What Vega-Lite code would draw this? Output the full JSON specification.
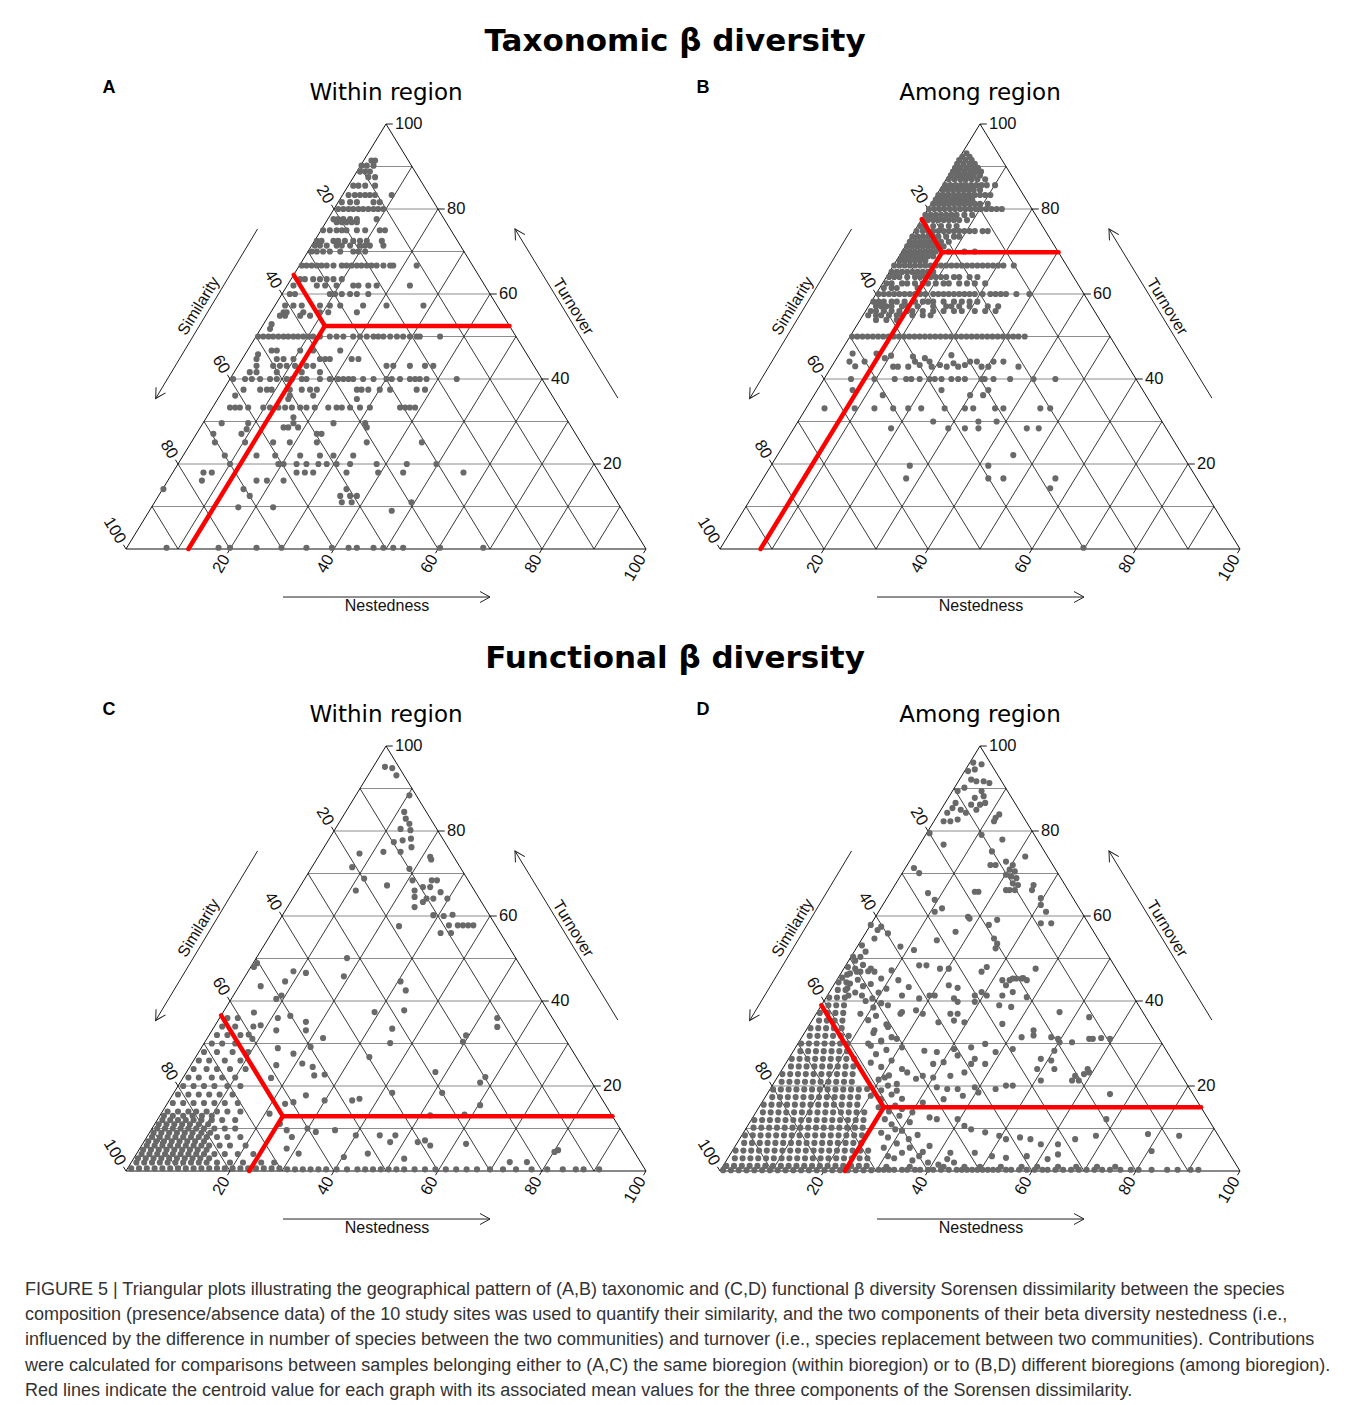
{
"$schema":"https://vega.github.io/schema/vega-lite/v6.json",
"background":"white",
"padding":{"left":25,"top":25,"right":10,"bottom":5},
"config":{"view":{"stroke":null},"font":"Liberation Sans"},
"datasets":{
"grid":[
{"k":"h","x":5,"y":10,"x2":95,"y2":10},{"k":"h","x":10,"y":20,"x2":90,"y2":20},{"k":"h","x":15,"y":30,"x2":85,"y2":30},{"k":"h","x":20,"y":40,"x2":80,"y2":40},{"k":"h","x":25,"y":50,"x2":75,"y2":50},{"k":"h","x":30,"y":60,"x2":70,"y2":60},{"k":"h","x":35,"y":70,"x2":65,"y2":70},{"k":"h","x":40,"y":80,"x2":60,"y2":80},{"k":"h","x":45,"y":90,"x2":55,"y2":90},
{"k":"d","x":10,"y":0,"x2":5,"y2":10},{"k":"d","x":20,"y":0,"x2":10,"y2":20},{"k":"d","x":30,"y":0,"x2":15,"y2":30},{"k":"d","x":40,"y":0,"x2":20,"y2":40},{"k":"d","x":50,"y":0,"x2":25,"y2":50},{"k":"d","x":60,"y":0,"x2":30,"y2":60},{"k":"d","x":70,"y":0,"x2":35,"y2":70},{"k":"d","x":80,"y":0,"x2":40,"y2":80},{"k":"d","x":90,"y":0,"x2":45,"y2":90},
{"k":"d","x":10,"y":0,"x2":55,"y2":90},{"k":"d","x":20,"y":0,"x2":60,"y2":80},{"k":"d","x":30,"y":0,"x2":65,"y2":70},{"k":"d","x":40,"y":0,"x2":70,"y2":60},{"k":"d","x":50,"y":0,"x2":75,"y2":50},{"k":"d","x":60,"y":0,"x2":80,"y2":40},{"k":"d","x":70,"y":0,"x2":85,"y2":30},{"k":"d","x":80,"y":0,"x2":90,"y2":20},{"k":"d","x":90,"y":0,"x2":95,"y2":10},
{"k":"e","x":0,"y":0,"x2":100,"y2":0},{"k":"e","x":0,"y":0,"x2":50,"y2":100},{"k":"e","x":100,"y":0,"x2":50,"y2":100},
{"k":"t","x":20,"y":0,"x2":19.5,"y2":-1},{"k":"t","x":40,"y":0,"x2":39.5,"y2":-1},{"k":"t","x":60,"y":0,"x2":59.5,"y2":-1},{"k":"t","x":80,"y":0,"x2":79.5,"y2":-1},{"k":"t","x":100,"y":0,"x2":99.5,"y2":-1},
{"k":"t","x":40,"y":80,"x2":39.5,"y2":81},{"k":"t","x":30,"y":60,"x2":29.5,"y2":61},{"k":"t","x":20,"y":40,"x2":19.5,"y2":41},{"k":"t","x":10,"y":20,"x2":9.5,"y2":21},{"k":"t","x":0,"y":0,"x2":-0.5,"y2":1},
{"k":"t","x":90,"y":20,"x2":91.3,"y2":20},{"k":"t","x":80,"y":40,"x2":81.3,"y2":40},{"k":"t","x":70,"y":60,"x2":71.3,"y2":60},{"k":"t","x":60,"y":80,"x2":61.3,"y2":80},{"k":"t","x":50,"y":100,"x2":51.3,"y2":100}
],
"labs":[
{"s":"b","v":"20","x":20,"y":0},{"s":"b","v":"40","x":40,"y":0},{"s":"b","v":"60","x":60,"y":0},{"s":"b","v":"80","x":80,"y":0},{"s":"b","v":"100","x":100,"y":0},
{"s":"l","v":"20","x":40,"y":80},{"s":"l","v":"40","x":30,"y":60},{"s":"l","v":"60","x":20,"y":40},{"s":"l","v":"80","x":10,"y":20},{"s":"l","v":"100","x":0,"y":0},
{"s":"r","v":"20","x":90,"y":20},{"s":"r","v":"40","x":80,"y":40},{"s":"r","v":"60","x":70,"y":60},{"s":"r","v":"80","x":60,"y":80},{"s":"r","v":"100","x":50,"y":100}
],
"arrows":[
{"n":"Similarity","x":25.3,"y":75.3,"x2":5.7,"y2":35.4},
{"n":"Turnover","x":94.6,"y":35.5,"x2":74.8,"y2":75.3},
{"n":"Nestedness","x":30.2,"y":-11.3,"x2":70.0,"y2":-11.3}
],
"names":[
{"n":"Similarity","x":14.0,"y":57.2},{"n":"Turnover","x":86.0,"y":57.0},{"n":"Nestedness","x":50.2,"y":-13.4}
],
"letters":[
{"p":"A","x":-4.5,"y":107.2},{"p":"B","x":-4.5,"y":107.2},{"p":"C","x":-4.5,"y":107.2},{"p":"D","x":-4.5,"y":107.2}
],
"red":[
{"p":"A","x":38.25,"y":52.5,"x2":12,"y2":0},{"p":"A","x":38.25,"y":52.5,"x2":73.75,"y2":52.5},{"p":"A","x":38.25,"y":52.5,"x2":32.25,"y2":64.5},
{"p":"B","x":42.7,"y":69.8,"x2":7.8,"y2":0},{"p":"B","x":42.7,"y":69.8,"x2":65.1,"y2":69.8},{"p":"B","x":42.7,"y":69.8,"x2":38.8,"y2":77.6},
{"p":"C","x":30.15,"y":12.9,"x2":23.7,"y2":0},{"p":"C","x":30.15,"y":12.9,"x2":93.55,"y2":12.9},{"p":"C","x":30.15,"y":12.9,"x2":18.3,"y2":36.6},
{"p":"D","x":31.5,"y":15,"x2":24,"y2":0},{"p":"D","x":31.5,"y":15,"x2":92.5,"y2":15},{"p":"D","x":31.5,"y":15,"x2":19.5,"y2":39}
],
"A":[
{"x":47.2,"y":91.4},{"x":47.9,"y":91.4},{"x":45.3,"y":90.2},{"x":46.3,"y":90.2},{"x":47.6,"y":90.2},{"x":45.0,"y":88.8},{"x":46.0,"y":88.8},{"x":46.9,"y":88.8},{"x":46.6,"y":87.5},{"x":47.9,"y":87.5},
{"x":43.7,"y":85.5},{"x":44.7,"y":85.5},{"x":46.0,"y":85.5},{"x":47.9,"y":85.5},
{"x":42.8,"y":83.3},{"x":44.0,"y":83.3},{"x":45.0,"y":83.3},{"x":46.0,"y":83.3},{"x":46.9,"y":83.3},{"x":47.9,"y":83.3},{"x":51.1,"y":83.3},
{"x":41.5,"y":81.6},{"x":43.1,"y":81.6},{"x":44.4,"y":81.6},{"x":47.6,"y":81.6},{"x":48.8,"y":81.6},
{"x":40.8,"y":80},{"x":41.8,"y":80},{"x":42.8,"y":80},{"x":43.7,"y":80},{"x":44.7,"y":80},{"x":45.6,"y":80},{"x":46.6,"y":80},{"x":47.6,"y":80},{"x":48.5,"y":80},{"x":49.5,"y":80},
{"x":39.9,"y":77.6},{"x":40.8,"y":77.6},{"x":41.8,"y":77.6},{"x":43.1,"y":77.6},{"x":44.4,"y":77.6},{"x":48.2,"y":77.6},
{"x":40.5,"y":76.9},{"x":41.5,"y":76.9},{"x":42.4,"y":76.9},{"x":43.4,"y":76.9},{"x":44.4,"y":76.9},
{"x":37.9,"y":75},{"x":39.2,"y":75},{"x":40.5,"y":75},{"x":41.5,"y":75},{"x":42.4,"y":75},{"x":44.4,"y":75},{"x":46.0,"y":75},{"x":48.8,"y":75},{"x":49.8,"y":75},
{"x":36.7,"y":72.5},{"x":37.6,"y":72.5},{"x":39.9,"y":72.5},{"x":40.8,"y":72.5},{"x":42.1,"y":72.5},{"x":43.7,"y":72.5},{"x":45.0,"y":72.5},{"x":46.3,"y":72.5},{"x":49.2,"y":72.5},
{"x":36.3,"y":71.4},{"x":37.3,"y":71.4},{"x":38.6,"y":71.4},{"x":40.5,"y":71.4},{"x":41.5,"y":71.4},{"x":43.1,"y":71.4},{"x":45.0,"y":71.4},{"x":46.0,"y":71.4},{"x":46.9,"y":71.4},{"x":49.5,"y":71.4},
{"x":35.7,"y":70},{"x":36.7,"y":70},{"x":37.9,"y":70},{"x":39.2,"y":70},{"x":41.2,"y":70},{"x":43.7,"y":70},{"x":44.7,"y":70},{"x":46.0,"y":70},
{"x":33.8,"y":66.7},{"x":34.7,"y":66.7},{"x":35.7,"y":66.7},{"x":36.7,"y":66.7},{"x":37.6,"y":66.7},{"x":38.6,"y":66.7},{"x":39.9,"y":66.7},{"x":41.5,"y":66.7},{"x":42.4,"y":66.7},{"x":43.4,"y":66.7},{"x":44.4,"y":66.7},{"x":45.3,"y":66.7},{"x":46.3,"y":66.7},{"x":47.2,"y":66.7},{"x":48.2,"y":66.7},{"x":49.5,"y":66.7},{"x":50.8,"y":66.7},{"x":51.4,"y":66.7},{"x":55.9,"y":66.7},
{"x":33.5,"y":63.5},{"x":34.4,"y":63.5},{"x":36.0,"y":63.5},{"x":37.3,"y":63.5},{"x":38.6,"y":63.5},{"x":39.9,"y":63.5},{"x":41.5,"y":63.5},
{"x":32.2,"y":62},{"x":36.7,"y":62},{"x":38.3,"y":62},{"x":40.5,"y":62},{"x":43.7,"y":62},{"x":44.7,"y":62},{"x":46.6,"y":62},{"x":48.2,"y":62},{"x":54.6,"y":62},
{"x":31.5,"y":60},{"x":32.5,"y":60},{"x":39.2,"y":60},{"x":40.2,"y":60},{"x":41.5,"y":60},{"x":43.1,"y":60},{"x":44.4,"y":60},{"x":46.6,"y":60},
{"x":30.6,"y":57.3},{"x":32.2,"y":57.3},{"x":33.8,"y":57.3},{"x":37.3,"y":57.3},{"x":39.2,"y":57.3},{"x":41.2,"y":57.3},{"x":45.6,"y":57.3},{"x":50.1,"y":57.3},{"x":57.2,"y":57.3},
{"x":30.3,"y":55.7},{"x":30.9,"y":55.7},{"x":34.1,"y":55.7},{"x":37.3,"y":55.7},{"x":38.9,"y":55.7},{"x":44.4,"y":55.7},
{"x":29.6,"y":54.9},{"x":30.6,"y":54.9},{"x":33.5,"y":54.9},{"x":35.4,"y":54.9},{"x":28.0,"y":52.9},{"x":27.7,"y":51.8},
{"x":25.4,"y":50},{"x":26.4,"y":50},{"x":27.4,"y":50},{"x":28.3,"y":50},{"x":29.3,"y":50},{"x":30.3,"y":50},{"x":31.2,"y":50},{"x":32.2,"y":50},{"x":33.1,"y":50},{"x":34.1,"y":50},{"x":35.1,"y":50},{"x":36.0,"y":50},{"x":37.3,"y":50},{"x":39.2,"y":50},{"x":40.5,"y":50},{"x":41.8,"y":50},{"x":43.7,"y":50},{"x":45.0,"y":50},{"x":46.3,"y":50},{"x":47.6,"y":50},{"x":48.5,"y":50},{"x":49.5,"y":50},{"x":50.8,"y":50},{"x":52.1,"y":50},{"x":53.3,"y":50},{"x":54.6,"y":50},{"x":55.9,"y":50},{"x":56.5,"y":50},{"x":60.4,"y":50},
{"x":28.0,"y":46.7},{"x":29.0,"y":46.7},{"x":33.5,"y":46.7},{"x":36.0,"y":46.7},{"x":41.2,"y":46.7},
{"x":25.1,"y":44.7},{"x":25.4,"y":45.8},{"x":29.0,"y":44.7},{"x":30.3,"y":44.7},{"x":32.2,"y":44.7},{"x":37.3,"y":44.7},{"x":38.3,"y":44.7},{"x":39.2,"y":44.7},{"x":43.4,"y":44.7},{"x":44.7,"y":44.7},
{"x":25.1,"y":43.1},{"x":28.3,"y":43.1},{"x":29.6,"y":43.1},{"x":30.9,"y":43.1},{"x":32.5,"y":43.1},{"x":34.7,"y":43.1},{"x":36.0,"y":43.1},{"x":50.1,"y":43.1},{"x":51.4,"y":43.1},{"x":54.6,"y":43.1},{"x":57.5,"y":43.1},{"x":59.1,"y":43.1},
{"x":23.8,"y":41.6},{"x":25.1,"y":41.6},{"x":29.0,"y":41.6},{"x":33.8,"y":41.6},{"x":37.3,"y":41.6},
{"x":20.6,"y":40},{"x":22.9,"y":40},{"x":24.2,"y":40},{"x":25.8,"y":40},{"x":27.7,"y":40},{"x":29.0,"y":40},{"x":30.9,"y":40},{"x":31.9,"y":40},{"x":33.8,"y":40},{"x":34.7,"y":40},{"x":37.3,"y":40},{"x":39.2,"y":40},{"x":40.8,"y":40},{"x":41.8,"y":40},{"x":42.8,"y":40},{"x":43.7,"y":40},{"x":45.6,"y":40},{"x":47.6,"y":40},{"x":50.1,"y":40},{"x":51.1,"y":40},{"x":52.7,"y":40},{"x":54.6,"y":40},{"x":55.6,"y":40},{"x":56.5,"y":40},{"x":57.8,"y":40},{"x":63.6,"y":40},
{"x":22.6,"y":37.5},{"x":25.8,"y":37.5},{"x":27.1,"y":37.5},{"x":28.0,"y":37.5},{"x":31.5,"y":37.5},{"x":33.8,"y":37.5},{"x":35.4,"y":37.5},{"x":36.7,"y":37.5},{"x":44.4,"y":37.5},{"x":45.3,"y":37.5},{"x":46.6,"y":37.5},{"x":48.8,"y":37.5},{"x":50.8,"y":37.5},{"x":55.9,"y":37.5},{"x":57.5,"y":37.5},
{"x":21.0,"y":36.1},{"x":31.5,"y":36.1},{"x":36.0,"y":36.1},{"x":31.2,"y":35.3},{"x":44.4,"y":35.3},
{"x":20.0,"y":33.3},{"x":21.0,"y":33.3},{"x":21.9,"y":33.3},{"x":23.5,"y":33.3},{"x":26.4,"y":33.3},{"x":27.7,"y":33.3},{"x":29.3,"y":33.3},{"x":30.6,"y":33.3},{"x":31.9,"y":33.3},{"x":33.5,"y":33.3},{"x":34.7,"y":33.3},{"x":36.3,"y":33.3},{"x":38.9,"y":33.3},{"x":40.5,"y":33.3},{"x":41.5,"y":33.3},{"x":43.1,"y":33.3},{"x":45.0,"y":33.3},{"x":46.9,"y":33.3},{"x":52.7,"y":33.3},{"x":53.7,"y":33.3},{"x":54.6,"y":33.3},{"x":55.6,"y":33.3},
{"x":32.2,"y":31},{"x":18.4,"y":29.6},{"x":23.5,"y":29.6},{"x":32.2,"y":29.6},{"x":39.9,"y":29.6},{"x":46.0,"y":29.6},
{"x":30.3,"y":28.6},{"x":31.2,"y":28.6},{"x":33.1,"y":28.6},{"x":46.3,"y":28.6},{"x":23.2,"y":28.2},
{"x":16.8,"y":27.1},{"x":22.2,"y":27.1},{"x":36.7,"y":27.1},{"x":37.6,"y":27.1},
{"x":17.1,"y":25.1},{"x":22.9,"y":25.1},{"x":28.3,"y":25.1},{"x":31.5,"y":25.1},{"x":36.7,"y":25.1},{"x":46.3,"y":25.1},{"x":56.9,"y":25.1},
{"x":19.0,"y":22},{"x":25.1,"y":22},{"x":28.7,"y":22},{"x":33.5,"y":22},{"x":37.3,"y":22},{"x":39.9,"y":22},{"x":43.7,"y":22},
{"x":20.0,"y":20},{"x":29.3,"y":20},{"x":30.3,"y":20},{"x":32.8,"y":20},{"x":34.7,"y":20},{"x":37.0,"y":20},{"x":38.6,"y":20},{"x":40.5,"y":20},{"x":43.1,"y":20},{"x":48.2,"y":20},{"x":54.0,"y":20},{"x":59.7,"y":20},
{"x":14.9,"y":18},{"x":16.5,"y":18},{"x":32.8,"y":18},{"x":34.4,"y":18},{"x":36.0,"y":18},{"x":42.4,"y":18},{"x":48.5,"y":18},{"x":53.3,"y":18},{"x":64.9,"y":18},
{"x":14.6,"y":16.1},{"x":25.1,"y":16.1},{"x":27.1,"y":16.1},{"x":30.3,"y":16.1},
{"x":7.2,"y":14.1},{"x":22.6,"y":14.1},{"x":42.4,"y":14.1},
{"x":23.8,"y":12.5},{"x":41.2,"y":12.5},{"x":43.1,"y":12.5},{"x":44.4,"y":12.5},
{"x":41.5,"y":11},{"x":43.4,"y":11},{"x":54.9,"y":11},{"x":21.6,"y":9.8},{"x":28.3,"y":9.8},{"x":51.1,"y":9},
{"x":7.8,"y":0.3},{"x":17.8,"y":0.3},{"x":20.0,"y":0.3},{"x":25.1,"y":0.3},{"x":29.9,"y":0.3},{"x":34.7,"y":0.3},{"x":39.6,"y":0.3},{"x":42.8,"y":0.3},{"x":44.4,"y":0.3},{"x":47.6,"y":0.3},{"x":49.5,"y":0.3},{"x":51.4,"y":0.3},{"x":53.3,"y":0.3},{"x":60.4,"y":0.3},{"x":68.7,"y":0.3}
],
"B":[
{"x":47.4,"y":93.1},{"x":46.6,"y":92.3},{"x":48.0,"y":92.3},{"x":46.0,"y":91.5},{"x":47.2,"y":91.5},{"x":48.4,"y":91.5},{"x":45.6,"y":90.6},{"x":46.8,"y":90.6},{"x":48.0,"y":90.6},{"x":49.0,"y":90.6},{"x":45.2,"y":89.7},{"x":46.3,"y":89.7},{"x":47.4,"y":89.7},{"x":48.5,"y":89.7},{"x":49.6,"y":89.7},{"x":44.8,"y":88.8},{"x":45.9,"y":88.8},{"x":47.0,"y":88.8},{"x":48.1,"y":88.8},{"x":49.2,"y":88.8},{"x":50.2,"y":88.8},{"x":44.4,"y":87.9},{"x":45.5,"y":87.9},{"x":46.6,"y":87.9},{"x":47.7,"y":87.9},{"x":48.8,"y":87.9},{"x":50.0,"y":87.9},{"x":44.0,"y":87.0},{"x":45.1,"y":87.0},{"x":46.2,"y":87.0},{"x":47.3,"y":87.0},{"x":48.4,"y":87.0},{"x":49.5,"y":87.0},{"x":51.0,"y":87.0},
{"x":43.3,"y":85.6},{"x":44.3,"y":85.6},{"x":45.3,"y":85.6},{"x":46.3,"y":85.6},{"x":47.3,"y":85.6},{"x":48.3,"y":85.6},{"x":49.3,"y":85.6},{"x":50.3,"y":85.6},{"x":51.3,"y":85.6},{"x":52.9,"y":85.6},
{"x":42.8,"y":84.5},{"x":43.8,"y":84.5},{"x":44.8,"y":84.5},{"x":45.8,"y":84.5},{"x":46.8,"y":84.5},{"x":47.8,"y":84.5},{"x":48.8,"y":84.5},{"x":50.0,"y":84.5},
{"x":42.0,"y":83.3},{"x":43.0,"y":83.3},{"x":44.0,"y":83.3},{"x":45.0,"y":83.3},{"x":46.0,"y":83.3},{"x":47.0,"y":83.3},{"x":48.0,"y":83.3},{"x":49.0,"y":83.3},{"x":50.0,"y":83.3},{"x":51.0,"y":83.3},{"x":52.0,"y":83.3},
{"x":41.5,"y":82.2},{"x":42.5,"y":82.2},{"x":43.5,"y":82.2},{"x":44.5,"y":82.2},{"x":45.5,"y":82.2},{"x":46.5,"y":82.2},{"x":47.5,"y":82.2},{"x":48.5,"y":82.2},
{"x":41.0,"y":81.2},{"x":42.0,"y":81.2},{"x":43.0,"y":81.2},{"x":44.0,"y":81.2},{"x":45.0,"y":81.2},{"x":46.0,"y":81.2},{"x":47.0,"y":81.2},{"x":48.0,"y":81.2},{"x":49.0,"y":81.2},{"x":50.0,"y":81.2},{"x":51.5,"y":81.2},
{"x":40.2,"y":80},{"x":41.2,"y":80},{"x":42.2,"y":80},{"x":43.2,"y":80},{"x":44.2,"y":80},{"x":45.2,"y":80},{"x":46.2,"y":80},{"x":47.2,"y":80},{"x":48.2,"y":80},{"x":49.2,"y":80},{"x":50.2,"y":80},{"x":51.2,"y":80},{"x":52.2,"y":80},{"x":53.2,"y":80},{"x":54.2,"y":80},
{"x":39.5,"y":78.6},{"x":40.5,"y":78.6},{"x":41.5,"y":78.6},{"x":42.5,"y":78.6},{"x":43.5,"y":78.6},{"x":44.5,"y":78.6},{"x":45.5,"y":78.6},{"x":47.0,"y":78.6},{"x":48.5,"y":78.6},
{"x":39.0,"y":77.4},{"x":40.0,"y":77.4},{"x":41.0,"y":77.4},{"x":42.0,"y":77.4},{"x":43.0,"y":77.4},{"x":44.0,"y":77.4},{"x":45.0,"y":77.4},{"x":46.0,"y":77.4},{"x":47.5,"y":77.4},
{"x":38.5,"y":76.0},{"x":39.5,"y":76.0},{"x":41.0,"y":76.0},{"x":42.5,"y":76.0},{"x":44.0,"y":76.0},{"x":45.5,"y":76.0},
{"x":37.8,"y":74.8},{"x":39.0,"y":74.8},{"x":40.0,"y":74.8},{"x":41.0,"y":74.8},{"x":42.0,"y":74.8},{"x":43.0,"y":74.8},{"x":44.0,"y":74.8},{"x":45.0,"y":74.8},{"x":46.0,"y":74.8},{"x":47.0,"y":74.8},{"x":48.0,"y":74.8},{"x":49.0,"y":74.8},{"x":50.5,"y":74.8},{"x":51.5,"y":74.8},
{"x":37.0,"y":73.5},{"x":38.0,"y":73.5},{"x":39.0,"y":73.5},{"x":40.0,"y":73.5},{"x":41.0,"y":73.5},{"x":42.0,"y":73.5},{"x":43.5,"y":73.5},{"x":45.0,"y":73.5},{"x":46.0,"y":73.5},
{"x":36.5,"y":72.3},{"x":37.5,"y":72.3},{"x":38.5,"y":72.3},{"x":39.5,"y":72.3},{"x":40.5,"y":72.3},{"x":41.5,"y":72.3},{"x":42.5,"y":72.3},{"x":44.0,"y":72.3},
{"x":36.0,"y":71.2},{"x":37.0,"y":71.2},{"x":38.0,"y":71.2},{"x":39.0,"y":71.2},{"x":40.0,"y":71.2},{"x":41.0,"y":71.2},{"x":42.0,"y":71.2},{"x":43.0,"y":71.2},
{"x":35.5,"y":70},{"x":36.5,"y":70},{"x":37.5,"y":70},{"x":38.5,"y":70},{"x":39.5,"y":70},{"x":40.5,"y":70},{"x":41.5,"y":70},{"x":44.0,"y":70},{"x":47.0,"y":70},{"x":49.0,"y":70},
{"x":35.0,"y":68.9},{"x":36.0,"y":68.9},{"x":37.0,"y":68.9},{"x":38.0,"y":68.9},{"x":39.0,"y":68.9},{"x":40.0,"y":68.9},{"x":41.0,"y":68.9},
{"x":34.5,"y":67.8},{"x":35.5,"y":67.8},{"x":36.5,"y":67.8},{"x":37.5,"y":67.8},{"x":38.5,"y":67.8},{"x":39.5,"y":67.8},
{"x":33.5,"y":66.7},{"x":34.5,"y":66.7},{"x":35.5,"y":66.7},{"x":36.5,"y":66.7},{"x":37.5,"y":66.7},{"x":38.5,"y":66.7},{"x":39.5,"y":66.7},{"x":40.5,"y":66.7},{"x":41.5,"y":66.7},{"x":42.5,"y":66.7},{"x":43.5,"y":66.7},{"x":44.5,"y":66.7},{"x":45.5,"y":66.7},{"x":46.5,"y":66.7},{"x":47.5,"y":66.7},{"x":48.5,"y":66.7},{"x":49.5,"y":66.7},{"x":50.5,"y":66.7},{"x":51.5,"y":66.7},{"x":52.5,"y":66.7},{"x":53.5,"y":66.7},{"x":54.5,"y":66.7},{"x":56.5,"y":66.7},
{"x":33.0,"y":65.2},{"x":34.0,"y":65.2},{"x":35.0,"y":65.2},{"x":36.0,"y":65.2},{"x":37.0,"y":65.2},{"x":38.0,"y":65.2},{"x":39.0,"y":65.2},{"x":40.0,"y":65.2},{"x":41.0,"y":65.2},
{"x":32.5,"y":64},{"x":33.5,"y":64},{"x":34.5,"y":64},{"x":36.0,"y":64},{"x":37.5,"y":64},{"x":38.5,"y":64},{"x":39.5,"y":64},{"x":40.5,"y":64},{"x":41.5,"y":64},{"x":42.5,"y":64},{"x":43.5,"y":64},{"x":45.0,"y":64},{"x":46.0,"y":64},{"x":48.0,"y":64},{"x":49.5,"y":64},
{"x":32.0,"y":62.5},{"x":33.0,"y":62.5},{"x":35.0,"y":62.5},{"x":36.0,"y":62.5},{"x":37.5,"y":62.5},{"x":39.0,"y":62.5},{"x":40.0,"y":62.5},{"x":41.5,"y":62.5},{"x":43.0,"y":62.5},{"x":44.0,"y":62.5},{"x":46.0,"y":62.5},{"x":47.5,"y":62.5},{"x":49.0,"y":62.5},{"x":51.0,"y":62.5},
{"x":31.5,"y":61.4},{"x":33.0,"y":61.4},{"x":34.0,"y":61.4},{"x":38.0,"y":61.4},
{"x":30.5,"y":60},{"x":31.5,"y":60},{"x":32.5,"y":60},{"x":33.5,"y":60},{"x":34.5,"y":60},{"x":35.5,"y":60},{"x":36.5,"y":60},{"x":37.5,"y":60},{"x":38.5,"y":60},{"x":39.5,"y":60},{"x":41.0,"y":60},{"x":42.0,"y":60},{"x":43.0,"y":60},{"x":44.0,"y":60},{"x":45.0,"y":60},{"x":46.0,"y":60},{"x":47.0,"y":60},{"x":48.0,"y":60},{"x":49.0,"y":60},{"x":50.5,"y":60},{"x":52.0,"y":60},{"x":53.0,"y":60},{"x":54.0,"y":60},{"x":55.0,"y":60},{"x":57.0,"y":60},{"x":59.5,"y":60},
{"x":29.5,"y":58.2},{"x":30.5,"y":58.2},{"x":31.5,"y":58.2},{"x":33.0,"y":58.2},{"x":34.0,"y":58.2},{"x":35.5,"y":58.2},{"x":37.5,"y":58.2},{"x":39.0,"y":58.2},{"x":40.0,"y":58.2},{"x":41.0,"y":58.2},{"x":43.0,"y":58.2},{"x":45.0,"y":58.2},{"x":46.5,"y":58.2},{"x":48.0,"y":58.2},{"x":49.5,"y":58.2},
{"x":30.0,"y":57.1},{"x":31.0,"y":57.1},{"x":32.0,"y":57.1},{"x":33.0,"y":57.1},{"x":35.0,"y":57.1},{"x":36.0,"y":57.1},{"x":38.0,"y":57.1},{"x":41.0,"y":57.1},{"x":43.5,"y":57.1},{"x":44.5,"y":57.1},{"x":46.0,"y":57.1},{"x":48.0,"y":57.1},{"x":51.5,"y":57.1},{"x":53.5,"y":57.1},
{"x":29.0,"y":56},{"x":30.0,"y":56},{"x":31.5,"y":56},{"x":33.0,"y":56},{"x":34.5,"y":56},{"x":36.0,"y":56},{"x":37.0,"y":56},{"x":39.0,"y":56},{"x":41.0,"y":56},{"x":43.0,"y":56},{"x":45.0,"y":56},{"x":46.5,"y":56},{"x":49.0,"y":56},{"x":51.0,"y":56},{"x":53.0,"y":56},
{"x":28.5,"y":55},{"x":30.0,"y":55},{"x":31.0,"y":55},{"x":32.5,"y":55},{"x":34.0,"y":55},{"x":35.0,"y":55},{"x":37.0,"y":55},{"x":39.0,"y":55},{"x":40.5,"y":55},
{"x":30.0,"y":53.9},{"x":32.0,"y":53.9},{"x":34.0,"y":53.9},
{"x":25.4,"y":50},{"x":26.4,"y":50},{"x":27.4,"y":50},{"x":28.4,"y":50},{"x":29.4,"y":50},{"x":30.4,"y":50},{"x":31.4,"y":50},{"x":32.4,"y":50},{"x":33.4,"y":50},{"x":34.4,"y":50},{"x":35.4,"y":50},{"x":36.4,"y":50},{"x":37.4,"y":50},{"x":38.4,"y":50},{"x":39.4,"y":50},{"x":40.4,"y":50},{"x":41.4,"y":50},{"x":42.4,"y":50},{"x":43.4,"y":50},{"x":44.4,"y":50},{"x":45.4,"y":50},{"x":46.4,"y":50},{"x":47.4,"y":50},{"x":48.4,"y":50},{"x":49.4,"y":50},{"x":50.4,"y":50},{"x":51.4,"y":50},{"x":52.4,"y":50},{"x":53.4,"y":50},{"x":54.4,"y":50},{"x":55.4,"y":50},{"x":56.4,"y":50},{"x":57.4,"y":50},{"x":58.6,"y":50},
{"x":24.9,"y":44.1},{"x":27.8,"y":44.1},{"x":30.1,"y":46.0},{"x":31.7,"y":44.9},{"x":32.9,"y":45.5},{"x":33.3,"y":42.9},{"x":34.2,"y":42.9},{"x":36.2,"y":42.9},{"x":37.1,"y":45.3},{"x":37.5,"y":44.1},{"x":38.4,"y":43.3},{"x":39.4,"y":44.9},{"x":40.3,"y":44.1},{"x":40.7,"y":42.9},{"x":42.3,"y":43.3},{"x":43.6,"y":42.9},{"x":44.5,"y":45.6},{"x":44.9,"y":43.7},{"x":45.8,"y":42.9},{"x":47.1,"y":43.3},{"x":48.1,"y":44.1},{"x":49.4,"y":44.1},{"x":50.3,"y":42.9},{"x":51.6,"y":42.9},{"x":52.6,"y":44.1},{"x":54.5,"y":44.1},{"x":57.4,"y":42.9},{"x":26.0,"y":43.0},{"x":25.5,"y":46.0},
{"x":25.2,"y":40},{"x":29.7,"y":40},{"x":33.6,"y":40},{"x":35.8,"y":40},{"x":36.8,"y":40},{"x":38.4,"y":40},{"x":40.3,"y":40},{"x":41.3,"y":40},{"x":42.6,"y":40},{"x":44.5,"y":40},{"x":45.8,"y":40},{"x":47.1,"y":40},{"x":50.3,"y":40},{"x":50.9,"y":40},{"x":52.6,"y":40},{"x":55.8,"y":40},{"x":60.3,"y":40},{"x":64.5,"y":40},
{"x":25.5,"y":37.4},{"x":31.3,"y":36.2},{"x":42.6,"y":37.4},{"x":51.6,"y":37.4},{"x":48.1,"y":36.2},{"x":50.6,"y":36.2},
{"x":20.1,"y":33.1},{"x":25.9,"y":33.1},{"x":29.7,"y":33.1},{"x":33.3,"y":33.1},{"x":36.2,"y":33.1},{"x":38.7,"y":33.1},{"x":43.2,"y":33.1},{"x":47.1,"y":33.1},{"x":48.7,"y":33.1},{"x":52.9,"y":33.1},{"x":54.5,"y":33.1},{"x":61.6,"y":33.1},{"x":63.5,"y":33.1},
{"x":41.0,"y":30},{"x":49.7,"y":30},{"x":53.2,"y":30},
{"x":32.9,"y":28.4},{"x":43.9,"y":28.4},{"x":47.1,"y":28.4},{"x":49.7,"y":28.4},{"x":59.0,"y":28.4},{"x":61.3,"y":28.4},
{"x":56.4,"y":22.1},{"x":36.5,"y":19.6},{"x":51.6,"y":19.6},{"x":35.8,"y":16.6},{"x":51.6,"y":16.6},{"x":54.5,"y":16.6},{"x":64.5,"y":16.6},{"x":63.5,"y":14.3},{"x":69.9,"y":0.3}
],
"C":[
{"x":49.8,"y":95.1},{"x":51.2,"y":94.8},{"x":52.0,"y":93.1},{"x":54.5,"y":88.4},{"x":53.5,"y":84.5},{"x":53.8,"y":82.9},{"x":54.5,"y":81.7},{"x":52.8,"y":80.5},{"x":54.7,"y":80.2},{"x":51.5,"y":77.4},{"x":53.2,"y":77.8},{"x":54.8,"y":78.2},{"x":52.8,"y":75.1},{"x":54.9,"y":76.2},{"x":44.9,"y":74.7},{"x":49.5,"y":75.1},{"x":58.5,"y":73.9},{"x":58.7,"y":73.3},{"x":43.5,"y":71.5},{"x":54.5,"y":71.1},{"x":45.8,"y":68.8},{"x":50.2,"y":67.2},{"x":44.2,"y":66.0},{"x":55.1,"y":68.4},{"x":57.1,"y":66.8},{"x":55.5,"y":66.0},{"x":58.8,"y":68.4},{"x":59.8,"y":68.4},{"x":58.5,"y":66.8},{"x":60.5,"y":65.6},{"x":55.5,"y":64.5},{"x":57.8,"y":64.1},{"x":59.1,"y":64.1},{"x":61.8,"y":64.1},{"x":57.1,"y":63.3},{"x":55.5,"y":62.1},{"x":59.1,"y":60.2},{"x":61.1,"y":60.0},{"x":62.8,"y":60.3},{"x":62.1,"y":57.8},{"x":63.8,"y":57.8},{"x":64.8,"y":57.8},{"x":65.8,"y":57.8},{"x":66.8,"y":57.8},{"x":60.5,"y":56.0},{"x":62.5,"y":56.0},{"x":52.5,"y":57.6},{"x":42.5,"y":50.1},
{"x":25.2,"y":48.9},{"x":24.6,"y":48.0},{"x":32.2,"y":47.0},{"x":34.6,"y":46.6},{"x":41.9,"y":45.8},{"x":30.6,"y":44.6},{"x":25.9,"y":43.5},{"x":28.9,"y":40.5},{"x":29.9,"y":41.3},{"x":52.8,"y":44.6},{"x":53.8,"y":42.5},{"x":24.6,"y":37.3},{"x":29.2,"y":36.0},{"x":31.6,"y":36.5},{"x":34.6,"y":35.1},{"x":34.6,"y":33.1},{"x":37.9,"y":31.3},{"x":25.9,"y":34.3},{"x":28.9,"y":33.1},{"x":23.6,"y":32.1},{"x":24.3,"y":31.1},{"x":47.8,"y":37.4},{"x":53.5,"y":37.8},{"x":51.2,"y":33.5},{"x":50.8,"y":30.1},{"x":71.4,"y":36.0},{"x":71.4,"y":33.9},{"x":65.4,"y":31.9},{"x":64.8,"y":30.4},{"x":29.2,"y":28.9},{"x":35.5,"y":29.2},{"x":46.8,"y":26.8},{"x":32.2,"y":27.6},{"x":33.9,"y":25.3},{"x":35.9,"y":24.5},{"x":36.2,"y":22.5},{"x":38.2,"y":22.7},{"x":28.9,"y":24.9},{"x":27.9,"y":21.9},{"x":59.5,"y":23.3},{"x":69.1,"y":22.1},{"x":68.1,"y":20.8},{"x":34.6,"y":17.8},{"x":32.2,"y":16.2},{"x":38.2,"y":16.6},{"x":43.5,"y":16.6},{"x":44.9,"y":17.0},{"x":51.2,"y":18.4},{"x":60.8,"y":18.4},{"x":68.1,"y":15.5},{"x":58.5,"y":13.1},{"x":65.1,"y":13.3},{"x":30.6,"y":15.8},{"x":27.6,"y":13.5},{"x":29.6,"y":11.1},{"x":30.9,"y":9.6},{"x":31.9,"y":8.0},{"x":30.9,"y":5.3},{"x":33.2,"y":4.1},{"x":34.9,"y":10.0},{"x":36.5,"y":9.2},{"x":40.2,"y":9.6},{"x":41.9,"y":3.3},{"x":44.2,"y":8.4},{"x":46.5,"y":4.1},{"x":48.8,"y":8.4},{"x":50.8,"y":6.8},{"x":51.8,"y":8.4},{"x":53.5,"y":2.9},{"x":56.1,"y":6.8},{"x":57.5,"y":7.2},{"x":58.5,"y":6.0},{"x":65.4,"y":6.4},{"x":73.8,"y":2.1},{"x":77.1,"y":2.1},{"x":82.4,"y":4.5},{"x":83.1,"y":4.9},
{"x":19.5,"y":36},{"x":21.5,"y":36},{"x":18.5,"y":34},{"x":21.0,"y":34},{"x":24.5,"y":34},{"x":17.5,"y":32},{"x":19.5,"y":32},{"x":22.0,"y":32},{"x":16.5,"y":30},{"x":18.5,"y":30},{"x":21.0,"y":30},
{"x":15.0,"y":28},{"x":17.5,"y":28},{"x":20.5,"y":28},{"x":23.5,"y":28},{"x":14.0,"y":26},{"x":16.0,"y":26},{"x":19.0,"y":26},{"x":22.0,"y":26},
{"x":13.0,"y":24},{"x":15.5,"y":24},{"x":17.5,"y":24},{"x":20.0,"y":24},{"x":23.0,"y":24},{"x":12.0,"y":22},{"x":14.0,"y":22},{"x":16.5,"y":22},{"x":18.5,"y":22},{"x":21.0,"y":22},
{"x":11.0,"y":20},{"x":13.0,"y":20},{"x":15.0,"y":20},{"x":17.0,"y":20},{"x":19.5,"y":20},{"x":22.0,"y":20},
{"x":10.0,"y":18},{"x":12.0,"y":18},{"x":14.0,"y":18},{"x":16.0,"y":18},{"x":18.0,"y":18},{"x":20.5,"y":18},
{"x":9.0,"y":16},{"x":11.0,"y":16},{"x":13.0,"y":16},{"x":15.0,"y":16},{"x":17.0,"y":16},{"x":19.0,"y":16},{"x":21.5,"y":16},
{"x":8.0,"y":14},{"x":10.0,"y":14},{"x":12.0,"y":14},{"x":13.5,"y":14},{"x":15.5,"y":14},{"x":17.5,"y":14},{"x":19.5,"y":14},{"x":22.0,"y":14},
{"x":7.3,"y":13},{"x":9.0,"y":13},{"x":11.0,"y":13},{"x":12.8,"y":13},{"x":14.6,"y":13},{"x":16.5,"y":13},
{"x":7.0,"y":12},{"x":8.5,"y":12},{"x":10.0,"y":12},{"x":11.5,"y":12},{"x":13.0,"y":12},{"x":14.5,"y":12},{"x":16.5,"y":12},{"x":18.5,"y":12},{"x":21.0,"y":12},
{"x":6.3,"y":11},{"x":7.8,"y":11},{"x":9.3,"y":11},{"x":10.8,"y":11},{"x":12.3,"y":11},{"x":14.0,"y":11},{"x":15.8,"y":11},
{"x":6.0,"y":10},{"x":7.5,"y":10},{"x":9.0,"y":10},{"x":10.5,"y":10},{"x":12.0,"y":10},{"x":13.5,"y":10},{"x":15.0,"y":10},{"x":17.0,"y":10},{"x":19.0,"y":10},{"x":21.0,"y":10},
{"x":5.3,"y":9},{"x":6.8,"y":9},{"x":8.3,"y":9},{"x":9.8,"y":9},{"x":11.3,"y":9},{"x":12.8,"y":9},{"x":14.5,"y":9},{"x":16.2,"y":9},
{"x":5.0,"y":8},{"x":6.5,"y":8},{"x":8.0,"y":8},{"x":9.5,"y":8},{"x":11.0,"y":8},{"x":12.5,"y":8},{"x":14.0,"y":8},{"x":15.5,"y":8},{"x":17.5,"y":8},{"x":19.5,"y":8},{"x":22.0,"y":8},
{"x":4.3,"y":7},{"x":5.8,"y":7},{"x":7.3,"y":7},{"x":8.8,"y":7},{"x":10.3,"y":7},{"x":11.8,"y":7},{"x":13.3,"y":7},{"x":15.0,"y":7},
{"x":4.0,"y":6},{"x":5.5,"y":6},{"x":7.0,"y":6},{"x":8.5,"y":6},{"x":10.0,"y":6},{"x":11.5,"y":6},{"x":13.0,"y":6},{"x":14.5,"y":6},{"x":16.0,"y":6},{"x":18.0,"y":6},{"x":20.0,"y":6},{"x":23.0,"y":6},
{"x":3.3,"y":5},{"x":4.8,"y":5},{"x":6.3,"y":5},{"x":7.8,"y":5},{"x":9.3,"y":5},{"x":10.8,"y":5},{"x":12.3,"y":5},{"x":13.8,"y":5},{"x":15.5,"y":5},
{"x":3.0,"y":4},{"x":4.5,"y":4},{"x":6.0,"y":4},{"x":7.5,"y":4},{"x":9.0,"y":4},{"x":10.5,"y":4},{"x":12.0,"y":4},{"x":13.5,"y":4},{"x":15.0,"y":4},{"x":17.0,"y":4},{"x":19.0,"y":4},{"x":21.5,"y":4},{"x":24.5,"y":4},
{"x":2.3,"y":3},{"x":3.8,"y":3},{"x":5.3,"y":3},{"x":6.8,"y":3},{"x":8.3,"y":3},{"x":9.8,"y":3},{"x":11.3,"y":3},{"x":12.8,"y":3},{"x":14.3,"y":3},{"x":16.0,"y":3},
{"x":2.0,"y":2},{"x":3.5,"y":2},{"x":5.0,"y":2},{"x":6.5,"y":2},{"x":8.0,"y":2},{"x":9.5,"y":2},{"x":11.0,"y":2},{"x":12.5,"y":2},{"x":14.0,"y":2},{"x":15.5,"y":2},{"x":17.5,"y":2},{"x":20.0,"y":2},{"x":22.5,"y":2},{"x":26.0,"y":2},{"x":28.5,"y":2},
{"x":1.0,"y":0.6},{"x":2.5,"y":0.6},{"x":4.0,"y":0.6},{"x":5.5,"y":0.6},{"x":7.0,"y":0.6},{"x":8.5,"y":0.6},{"x":10.0,"y":0.6},{"x":11.5,"y":0.6},{"x":13.0,"y":0.6},{"x":14.5,"y":0.6},{"x":16.0,"y":0.6},{"x":17.5,"y":0.6},{"x":19.0,"y":0.6},{"x":20.5,"y":0.6},{"x":22.0,"y":0.6},{"x":23.5,"y":0.6},{"x":25.0,"y":0.6},{"x":26.5,"y":0.6},{"x":28.0,"y":0.6},{"x":29.5,"y":0.6},
{"x":31.0,"y":0.4},{"x":32.5,"y":0.4},{"x":34.0,"y":0.4},{"x":35.5,"y":0.4},{"x":37.0,"y":0.4},{"x":38.5,"y":0.4},{"x":40.5,"y":0.4},{"x":42.5,"y":0.4},{"x":44.5,"y":0.4},{"x":46.0,"y":0.4},{"x":47.5,"y":0.4},{"x":49.0,"y":0.4},{"x":50.5,"y":0.4},{"x":52.0,"y":0.4},{"x":53.5,"y":0.4},{"x":55.5,"y":0.4},{"x":57.5,"y":0.4},{"x":59.5,"y":0.4},{"x":61.5,"y":0.4},{"x":63.5,"y":0.4},{"x":65.5,"y":0.4},{"x":67.5,"y":0.4},{"x":70.0,"y":0.4},{"x":72.5,"y":0.4},{"x":75.0,"y":0.4},{"x":78.0,"y":0.4},{"x":81.0,"y":0.4},{"x":84.0,"y":0.4},{"x":86.5,"y":0.4},{"x":88.0,"y":0.4},{"x":91.0,"y":0.4}
],
"D":[
{"x":48.7,"y":96.1},{"x":50.3,"y":95.7},{"x":47.7,"y":94.1},{"x":49.0,"y":94.5},{"x":48.3,"y":92.1},{"x":49.3,"y":91.7},{"x":50.7,"y":91.7},{"x":51.8,"y":91.3},{"x":45.7,"y":89.4},{"x":47.0,"y":90.2},{"x":50.3,"y":89.4},{"x":50.7,"y":88.2},{"x":49.0,"y":87.8},{"x":51.0,"y":86.6},{"x":50.0,"y":86.2},{"x":45.3,"y":86.6},{"x":44.7,"y":85.4},{"x":46.3,"y":85.0},{"x":47.3,"y":84.3},{"x":48.3,"y":86.2},{"x":49.3,"y":85.0},{"x":43.7,"y":84.3},{"x":43.0,"y":82.3},{"x":44.3,"y":82.3},{"x":45.7,"y":82.7},{"x":53.0,"y":83.1},{"x":53.7,"y":83.9},{"x":52.7,"y":82.3},
{"x":40.3,"y":79.5},{"x":50.3,"y":79.1},{"x":54.3,"y":78.0},{"x":43.0,"y":76.8},{"x":52.3,"y":75.2},{"x":37.3,"y":71.3},{"x":38.3,"y":70.1},{"x":52.0,"y":72.0},{"x":53.0,"y":72.0},{"x":55.0,"y":72.8},{"x":56.3,"y":72.0},{"x":55.7,"y":70.9},{"x":56.7,"y":70.5},{"x":55.0,"y":69.7},{"x":56.0,"y":69.3},{"x":57.0,"y":68.9},{"x":56.3,"y":67.7},{"x":57.3,"y":67.3},{"x":58.7,"y":74.0},{"x":60.3,"y":67.3},{"x":60.0,"y":66.1},{"x":61.7,"y":64.2},{"x":61.7,"y":62.6},{"x":62.7,"y":61.0},{"x":55.0,"y":66.1},{"x":55.7,"y":66.1},{"x":56.7,"y":66.1},{"x":49.0,"y":65.7},{"x":49.7,"y":65.7},{"x":40.0,"y":65.4},{"x":41.3,"y":63.8},{"x":42.7,"y":61.8},{"x":41.3,"y":61.0},{"x":47.7,"y":59.8},{"x":48.0,"y":59.4},{"x":51.7,"y":57.9},{"x":53.3,"y":59.1},{"x":61.7,"y":58.3},{"x":63.7,"y":58.3},
{"x":31.0,"y":57.5},{"x":32.3,"y":55.9},{"x":34.7,"y":52.8},{"x":37.3,"y":52.0},{"x":41.7,"y":54.3},{"x":45.3,"y":56.3},{"x":52.7,"y":54.7},{"x":53.3,"y":53.5},{"x":53.0,"y":52.4},{"x":27.3,"y":53.1},{"x":28.0,"y":51.6},{"x":27.0,"y":50.4},{"x":29.0,"y":47.6},{"x":38.3,"y":48.4},{"x":39.7,"y":48.4},{"x":44.0,"y":47.6},{"x":42.3,"y":47.6},{"x":51.3,"y":48.0},{"x":50.3,"y":46.9},{"x":60.7,"y":47.6},{"x":44.0,"y":43.7},{"x":45.7,"y":43.1},{"x":41.3,"y":41.3},
{"x":54.3,"y":44.9},{"x":55.7,"y":44.9},{"x":56.3,"y":45.3},{"x":57.0,"y":45.3},{"x":58.0,"y":45.3},{"x":58.3,"y":45.4},{"x":59.0,"y":44.9},{"x":56.3,"y":42.1},{"x":55.0,"y":43.7},{"x":54.3,"y":41.3},{"x":51.3,"y":41.3},{"x":49.0,"y":41.3},{"x":50.3,"y":42.1},{"x":38.3,"y":40.6},{"x":40.3,"y":41.3},{"x":45.0,"y":40.6},{"x":45.7,"y":39.8},{"x":49.0,"y":39.8},{"x":35.0,"y":41.3},{"x":32.0,"y":42.9},{"x":31.0,"y":45.3},{"x":29.7,"y":46.9},{"x":33.0,"y":47.2},{"x":34.3,"y":44.9},{"x":36.3,"y":43.3},{"x":25.6,"y":50.4},{"x":27.0,"y":46.9},{"x":26.0,"y":47.6},{"x":25.0,"y":44.1},{"x":24.7,"y":41.3},{"x":27.3,"y":41.3},{"x":29.3,"y":40.6},
{"x":32.3,"y":39.0},{"x":35.0,"y":37.4},{"x":34.7,"y":37.0},{"x":37.7,"y":37.8},{"x":39.0,"y":37.0},{"x":44.3,"y":37.0},{"x":45.7,"y":37.0},{"x":53.7,"y":39.0},{"x":56.0,"y":38.6},{"x":59.0,"y":40.9},{"x":65.3,"y":37.4},{"x":71.0,"y":36.2},{"x":42.0,"y":35.0},{"x":45.0,"y":35.4},{"x":47.0,"y":35.0},{"x":54.3,"y":34.6},{"x":60.3,"y":33.1},{"x":58.0,"y":31.5},{"x":63.7,"y":31.5},{"x":65.0,"y":31.1},{"x":71.0,"y":31.1},{"x":71.7,"y":31.1},{"x":73.3,"y":31.3},{"x":75.0,"y":31.1},{"x":67.7,"y":30.3},{"x":64.3,"y":28.3},{"x":65.3,"y":30.3},
{"x":29.7,"y":33.1},{"x":32.3,"y":33.9},{"x":34.0,"y":31.1},{"x":31.0,"y":30.7},{"x":29.0,"y":29.5},{"x":35.0,"y":29.1},{"x":39.3,"y":28.3},{"x":41.7,"y":28.0},{"x":45.0,"y":28.7},{"x":48.3,"y":29.1},{"x":51.0,"y":29.9},{"x":53.0,"y":28.0},{"x":56.3,"y":28.7},{"x":60.3,"y":31.9},{"x":61.7,"y":26.4},{"x":63.7,"y":26.0},{"x":61.0,"y":24.0},{"x":64.3,"y":24.0},{"x":68.3,"y":22.4},{"x":70.0,"y":22.8},{"x":70.7,"y":24.0},{"x":67.7,"y":21.3},{"x":69.0,"y":21.3},{"x":71.0,"y":23.2},{"x":75.0,"y":18.1},{"x":61.7,"y":21.3},{"x":55.0,"y":20.1},{"x":56.3,"y":20.1},{"x":53.0,"y":19.3},{"x":49.0,"y":19.7},{"x":49.7,"y":18.5},{"x":47.0,"y":23.2},{"x":49.0,"y":26.4},{"x":48.3,"y":25.2},{"x":51.0,"y":25.2},{"x":45.7,"y":27.2},{"x":41.0,"y":25.2},{"x":43.0,"y":25.6},{"x":44.3,"y":22.4},{"x":41.0,"y":22.0},{"x":39.0,"y":22.4},{"x":36.0,"y":23.2},{"x":35.0,"y":24.0},{"x":31.7,"y":22.0},{"x":32.3,"y":20.1},{"x":34.0,"y":18.9},{"x":37.7,"y":21.7},{"x":41.7,"y":19.7},{"x":43.7,"y":19.3},{"x":45.7,"y":19.3},{"x":46.7,"y":17.7},{"x":43.0,"y":16.9},{"x":39.0,"y":16.1},{"x":35.0,"y":14.6},{"x":37.0,"y":13.8},{"x":40.3,"y":12.6},{"x":41.7,"y":12.2},{"x":45.7,"y":12.2},{"x":47.0,"y":10.6},{"x":48.3,"y":9.8},{"x":51.0,"y":9.1},{"x":53.7,"y":8.3},{"x":55.0,"y":7.5},{"x":57.7,"y":7.9},{"x":59.7,"y":7.5},{"x":61.7,"y":6.3},{"x":82.3,"y":8.7},{"x":83.0,"y":4.7},{"x":88.3,"y":8.3},{"x":74.3,"y":12.2},{"x":72.3,"y":8.3},{"x":68.3,"y":7.5},{"x":65.0,"y":6.3},{"x":65.0,"y":3.9},{"x":63.0,"y":2.8},{"x":59.0,"y":3.5},{"x":55.0,"y":3.1},{"x":52.3,"y":3.5},{"x":49.0,"y":4.3},{"x":44.3,"y":4.3},{"x":43.7,"y":2.8},{"x":40.3,"y":5.9},{"x":38.3,"y":3.5},{"x":36.3,"y":7.5},{"x":35.0,"y":4.3},{"x":33.7,"y":9.8},{"x":32.3,"y":7.9},{"x":32.3,"y":3.5},{"x":31.7,"y":12.2},{"x":33.7,"y":15.4},{"x":31.0,"y":16.9},{"x":29.0,"y":17.7},{"x":28.3,"y":19.3},
{"x":29.0,"y":57.9},{"x":30.3,"y":56.7},{"x":29.7,"y":54.7},{"x":26.3,"y":46.9},
{"x":23.5,"y":45.5},{"x":25.0,"y":46.5},{"x":26.5,"y":45.0},{"x":27.5,"y":48.5},{"x":26.0,"y":49.5},{"x":28.5,"y":47.0},{"x":24.5,"y":43.0},{"x":26.0,"y":42.0},{"x":27.5,"y":43.5},{"x":29.0,"y":44.0},{"x":30.5,"y":42.0},{"x":28.0,"y":40.0},{"x":29.5,"y":38.5},{"x":31.0,"y":39.5},{"x":27.0,"y":37.0},{"x":28.5,"y":35.5},{"x":30.0,"y":36.5},{"x":32.0,"y":34.5},{"x":29.5,"y":32.5},{"x":31.0,"y":30.5},{"x":33.0,"y":31.5},{"x":28.5,"y":30.0},{"x":30.0,"y":27.5},{"x":32.0,"y":28.5},{"x":29.0,"y":25.5},{"x":31.0,"y":24.5},{"x":33.0,"y":26.0},{"x":30.5,"y":21.5},{"x":32.5,"y":22.5},{"x":34.0,"y":20.5},{"x":31.0,"y":19.0},{"x":33.0,"y":18.0},{"x":35.0,"y":17.0},{"x":30.5,"y":15.0},{"x":32.5,"y":14.0},{"x":34.5,"y":13.0},{"x":36.5,"y":11.5},{"x":33.0,"y":11.0},{"x":35.0,"y":9.5},{"x":38.0,"y":8.5},{"x":31.0,"y":9.0},{"x":34.0,"y":6.5},{"x":36.5,"y":5.5},{"x":39.0,"y":4.5},{"x":31.5,"y":5.5},{"x":33.5,"y":3.0},{"x":37.0,"y":2.5},{"x":40.0,"y":2.0},{"x":42.0,"y":1.5},{"x":45.0,"y":2.0},
{"x":1.2,"y":1.2},{"x":2.7,"y":1.2},{"x":4.2,"y":1.2},{"x":5.7,"y":1.2},{"x":7.2,"y":1.2},{"x":8.7,"y":1.2},{"x":10.2,"y":1.2},{"x":11.7,"y":1.2},{"x":13.2,"y":1.2},{"x":14.7,"y":1.2},{"x":16.2,"y":1.2},{"x":17.7,"y":1.2},{"x":19.2,"y":1.2},{"x":20.7,"y":1.2},{"x":22.2,"y":1.2},{"x":23.7,"y":1.2},{"x":25.2,"y":1.2},{"x":26.7,"y":1.2},{"x":28.2,"y":1.2},
{"x":2.85,"y":3.0},{"x":4.35,"y":3.0},{"x":5.85,"y":3.0},{"x":7.35,"y":3.0},{"x":8.85,"y":3.0},{"x":10.35,"y":3.0},{"x":11.85,"y":3.0},{"x":13.35,"y":3.0},{"x":14.85,"y":3.0},{"x":16.35,"y":3.0},{"x":17.85,"y":3.0},{"x":19.35,"y":3.0},{"x":20.85,"y":3.0},{"x":22.35,"y":3.0},{"x":23.85,"y":3.0},{"x":25.35,"y":3.0},{"x":26.85,"y":3.0},{"x":28.35,"y":3.0},
{"x":3.0,"y":4.8},{"x":4.5,"y":4.8},{"x":6.0,"y":4.8},{"x":7.5,"y":4.8},{"x":9.0,"y":4.8},{"x":10.5,"y":4.8},{"x":12.0,"y":4.8},{"x":13.5,"y":4.8},{"x":15.0,"y":4.8},{"x":16.5,"y":4.8},{"x":18.0,"y":4.8},{"x":19.5,"y":4.8},{"x":21.0,"y":4.8},{"x":22.5,"y":4.8},{"x":24.0,"y":4.8},{"x":25.5,"y":4.8},{"x":27.0,"y":4.8},{"x":28.5,"y":4.8},
{"x":4.65,"y":6.6},{"x":6.15,"y":6.6},{"x":7.65,"y":6.6},{"x":9.15,"y":6.6},{"x":10.65,"y":6.6},{"x":12.15,"y":6.6},{"x":13.65,"y":6.6},{"x":15.15,"y":6.6},{"x":16.65,"y":6.6},{"x":18.15,"y":6.6},{"x":19.65,"y":6.6},{"x":21.15,"y":6.6},{"x":22.65,"y":6.6},{"x":24.15,"y":6.6},{"x":25.65,"y":6.6},{"x":27.15,"y":6.6},
{"x":4.8,"y":8.4},{"x":6.3,"y":8.4},{"x":7.8,"y":8.4},{"x":9.3,"y":8.4},{"x":10.8,"y":8.4},{"x":12.3,"y":8.4},{"x":13.8,"y":8.4},{"x":15.3,"y":8.4},{"x":16.8,"y":8.4},{"x":18.3,"y":8.4},{"x":19.8,"y":8.4},{"x":21.3,"y":8.4},{"x":22.8,"y":8.4},{"x":24.3,"y":8.4},{"x":25.8,"y":8.4},{"x":27.3,"y":8.4},
{"x":6.45,"y":10.2},{"x":7.95,"y":10.2},{"x":9.45,"y":10.2},{"x":10.95,"y":10.2},{"x":12.45,"y":10.2},{"x":13.95,"y":10.2},{"x":15.45,"y":10.2},{"x":16.95,"y":10.2},{"x":18.45,"y":10.2},{"x":19.95,"y":10.2},{"x":21.45,"y":10.2},{"x":22.95,"y":10.2},{"x":24.45,"y":10.2},{"x":25.95,"y":10.2},{"x":27.45,"y":10.2},
{"x":6.6,"y":12.0},{"x":8.1,"y":12.0},{"x":9.6,"y":12.0},{"x":11.1,"y":12.0},{"x":12.6,"y":12.0},{"x":14.1,"y":12.0},{"x":15.6,"y":12.0},{"x":17.1,"y":12.0},{"x":18.6,"y":12.0},{"x":20.1,"y":12.0},{"x":21.6,"y":12.0},{"x":23.1,"y":12.0},{"x":24.6,"y":12.0},{"x":26.1,"y":12.0},{"x":27.6,"y":12.0},
{"x":8.25,"y":13.8},{"x":9.75,"y":13.8},{"x":11.25,"y":13.8},{"x":12.75,"y":13.8},{"x":14.25,"y":13.8},{"x":15.75,"y":13.8},{"x":17.25,"y":13.8},{"x":18.75,"y":13.8},{"x":20.25,"y":13.8},{"x":21.75,"y":13.8},{"x":23.25,"y":13.8},{"x":24.75,"y":13.8},{"x":26.25,"y":13.8},{"x":27.75,"y":13.8},
{"x":8.4,"y":15.6},{"x":9.9,"y":15.6},{"x":11.4,"y":15.6},{"x":12.9,"y":15.6},{"x":14.4,"y":15.6},{"x":15.9,"y":15.6},{"x":17.4,"y":15.6},{"x":18.9,"y":15.6},{"x":20.4,"y":15.6},{"x":21.9,"y":15.6},{"x":23.4,"y":15.6},{"x":24.9,"y":15.6},{"x":26.4,"y":15.6},
{"x":10.05,"y":17.4},{"x":11.55,"y":17.4},{"x":13.05,"y":17.4},{"x":14.55,"y":17.4},{"x":16.05,"y":17.4},{"x":17.55,"y":17.4},{"x":19.05,"y":17.4},{"x":20.55,"y":17.4},{"x":22.05,"y":17.4},{"x":23.55,"y":17.4},{"x":25.05,"y":17.4},{"x":26.55,"y":17.4},
{"x":10.2,"y":19.2},{"x":11.7,"y":19.2},{"x":13.2,"y":19.2},{"x":14.7,"y":19.2},{"x":16.2,"y":19.2},{"x":17.7,"y":19.2},{"x":19.2,"y":19.2},{"x":20.7,"y":19.2},{"x":22.2,"y":19.2},{"x":23.7,"y":19.2},{"x":25.2,"y":19.2},{"x":26.7,"y":19.2},
{"x":11.85,"y":21.0},{"x":13.35,"y":21.0},{"x":14.85,"y":21.0},{"x":16.35,"y":21.0},{"x":17.85,"y":21.0},{"x":19.35,"y":21.0},{"x":20.85,"y":21.0},{"x":22.35,"y":21.0},{"x":23.85,"y":21.0},{"x":25.35,"y":21.0},
{"x":12.0,"y":22.8},{"x":13.5,"y":22.8},{"x":15.0,"y":22.8},{"x":16.5,"y":22.8},{"x":18.0,"y":22.8},{"x":19.5,"y":22.8},{"x":21.0,"y":22.8},{"x":22.5,"y":22.8},{"x":24.0,"y":22.8},{"x":25.5,"y":22.8},
{"x":13.65,"y":24.6},{"x":15.15,"y":24.6},{"x":16.65,"y":24.6},{"x":18.15,"y":24.6},{"x":19.65,"y":24.6},{"x":21.15,"y":24.6},{"x":22.65,"y":24.6},{"x":24.15,"y":24.6},{"x":25.65,"y":24.6},
{"x":13.8,"y":26.4},{"x":15.3,"y":26.4},{"x":16.8,"y":26.4},{"x":18.3,"y":26.4},{"x":19.8,"y":26.4},{"x":21.3,"y":26.4},{"x":22.8,"y":26.4},{"x":24.3,"y":26.4},{"x":25.8,"y":26.4},
{"x":15.45,"y":28.2},{"x":16.95,"y":28.2},{"x":18.45,"y":28.2},{"x":19.95,"y":28.2},{"x":21.45,"y":28.2},{"x":22.95,"y":28.2},{"x":24.45,"y":28.2},
{"x":15.6,"y":30.0},{"x":17.1,"y":30.0},{"x":18.6,"y":30.0},{"x":20.1,"y":30.0},{"x":21.6,"y":30.0},{"x":23.1,"y":30.0},{"x":24.6,"y":30.0},
{"x":17.25,"y":31.8},{"x":18.75,"y":31.8},{"x":20.25,"y":31.8},{"x":21.75,"y":31.8},{"x":23.25,"y":31.8},{"x":24.75,"y":31.8},
{"x":17.4,"y":33.6},{"x":18.9,"y":33.6},{"x":20.4,"y":33.6},{"x":21.9,"y":33.6},{"x":23.4,"y":33.6},
{"x":19.05,"y":35.4},{"x":20.55,"y":35.4},{"x":22.05,"y":35.4},{"x":23.55,"y":35.4},
{"x":19.2,"y":37.2},{"x":20.7,"y":37.2},{"x":22.2,"y":37.2},{"x":23.7,"y":37.2},
{"x":20.85,"y":39.0},{"x":22.35,"y":39.0},{"x":23.85,"y":39.0},{"x":21.0,"y":40.8},{"x":22.5,"y":40.8},{"x":24.0,"y":40.8},
{"x":22.65,"y":42.6},{"x":24.15,"y":42.6},{"x":22.8,"y":44.4},{"x":24.3,"y":44.4},{"x":24.45,"y":46.2},{"x":24.6,"y":48.0},
{"x":0.6,"y":0.2},{"x":2.1,"y":0.2},{"x":3.6,"y":0.2},{"x":5.1,"y":0.2},{"x":6.6,"y":0.2},{"x":8.1,"y":0.2},{"x":9.6,"y":0.2},{"x":11.1,"y":0.2},{"x":12.6,"y":0.2},{"x":14.1,"y":0.2},{"x":15.6,"y":0.2},{"x":17.1,"y":0.2},{"x":18.6,"y":0.2},{"x":20.1,"y":0.2},{"x":21.6,"y":0.2},{"x":23.1,"y":0.2},{"x":24.6,"y":0.2},{"x":26.1,"y":0.2},{"x":27.6,"y":0.2},{"x":29.1,"y":0.2},
{"x":30.5,"y":0.3},{"x":31.5,"y":0.3},{"x":32.5,"y":0.3},{"x":33.5,"y":0.3},{"x":35.0,"y":0.3},{"x":36.0,"y":0.3},{"x":37.5,"y":0.3},{"x":38.5,"y":0.3},{"x":40.0,"y":0.3},{"x":41.0,"y":0.3},{"x":42.5,"y":0.3},{"x":44.0,"y":0.3},{"x":45.5,"y":0.3},{"x":46.5,"y":0.3},{"x":47.5,"y":0.3},{"x":48.5,"y":0.3},{"x":49.5,"y":0.3},{"x":50.5,"y":0.3},{"x":51.5,"y":0.3},{"x":52.5,"y":0.3},{"x":53.5,"y":0.3},{"x":55.0,"y":0.3},{"x":56.0,"y":0.3},{"x":57.5,"y":0.3},{"x":59.0,"y":0.3},{"x":60.5,"y":0.3},{"x":62.0,"y":0.3},{"x":63.0,"y":0.3},{"x":64.5,"y":0.3},{"x":66.0,"y":0.3},{"x":67.5,"y":0.3},{"x":69.0,"y":0.3},{"x":70.5,"y":0.3},{"x":72.0,"y":0.3},{"x":73.5,"y":0.3},{"x":75.0,"y":0.3},{"x":77.0,"y":0.3},{"x":79.0,"y":0.3},{"x":80.5,"y":0.3},{"x":83.0,"y":0.3},{"x":86.0,"y":0.3},{"x":88.0,"y":0.3},{"x":90.5,"y":0.3},{"x":92.0,"y":0.3},
{"x":32.0,"y":1.0},{"x":36.5,"y":1.0},{"x":43.0,"y":1.0},{"x":47.0,"y":1.0},{"x":50.0,"y":1.0},{"x":54.0,"y":1.0},{"x":58.0,"y":1.0},{"x":61.0,"y":1.0},{"x":65.0,"y":1.0},{"x":68.5,"y":1.0},{"x":72.5,"y":1.0},{"x":76.0,"y":1.0}
]
},
"title":{"text":["FIGURE 5 | Triangular plots illustrating the geographical pattern of (A,B) taxonomic and (C,D) functional β diversity Sorensen dissimilarity between the species","composition (presence/absence data) of the 10 study sites was used to quantify their similarity, and the two components of their beta diversity nestedness (i.e.,","influenced by the difference in number of species between the two communities) and turnover (i.e., species replacement between two communities). Contributions","were calculated for comparisons between samples belonging either to (A,C) the same bioregion (within bioregion) or to (B,D) different bioregions (among bioregion).","Red lines indicate the centroid value for each graph with its associated mean values for the three components of the Sorensen dissimilarity."],"orient":"bottom","anchor":"start","frame":"group","dx":-101,"offset":59,"font":"Liberation Sans","fontSize":18,"fontWeight":"normal","color":"#333333","lineHeight":25.2,"baseline":"alphabetic"},
"spacing":622,
"bounds":"flush",
"vconcat":[
{"title":{"text":"Taxonomic β diversity","font":"DejaVu Sans","fontSize":31,"fontWeight":"bold","color":"#000000","anchor":"middle","frame":"group","dx":549,"offset":-2.6,"baseline":"alphabetic"},
"spacing":74,"bounds":"flush",
"hconcat":[
{"width":520,"height":425,
"title":{"text":"Within region","font":"DejaVu Sans","fontSize":23,"fontWeight":"normal","color":"#000000","frame":"group","anchor":"middle","baseline":"alphabetic","offset":-43.6},
"encoding":{"x":{"field":"x","type":"quantitative","scale":{"domain":[0,100]},"axis":null},"y":{"field":"y","type":"quantitative","scale":{"domain":[0,100]},"axis":null}},
"layer":[
{"data":{"name":"grid"},"mark":{"type":"rule"},"encoding":{"x2":{"field":"x2"},"y2":{"field":"y2"},"color":{"field":"k","type":"nominal","scale":{"domain":["h","d","e","t"],"range":["#8c8c8c","#333333","#000000","#000000"]},"legend":null},"strokeWidth":{"field":"k","type":"nominal","scale":{"domain":["h","d","e","t"],"range":[1,0.9,2,1]},"legend":null}}},
{"data":{"name":"A"},"mark":{"type":"circle","size":38,"color":"#696969","opacity":1}},
{"data":{"name":"red"},"transform":[{"filter":"datum.p == 'A'"}],"mark":{"type":"rule","color":"#ff0000","strokeWidth":4.5,"strokeCap":"round"},"encoding":{"x2":{"field":"x2"},"y2":{"field":"y2"}}},
{"data":{"name":"labs"},"transform":[{"filter":"datum.s == 'b'"}],"mark":{"type":"text","angle":300,"align":"right","baseline":"middle","dx":-8,"font":"Liberation Sans","fontSize":16.5,"color":"#111111"},"encoding":{"text":{"field":"v"}}},
{"data":{"name":"labs"},"transform":[{"filter":"datum.s == 'l'"}],"mark":{"type":"text","angle":58.5,"align":"right","baseline":"middle","dx":-8,"font":"Liberation Sans","fontSize":16.5,"color":"#111111"},"encoding":{"text":{"field":"v"}}},
{"data":{"name":"labs"},"transform":[{"filter":"datum.s == 'r'"}],"mark":{"type":"text","align":"left","baseline":"middle","dx":9,"font":"Liberation Sans","fontSize":16.5,"color":"#111111"},"encoding":{"text":{"field":"v"}}},
{"data":{"name":"arrows"},"mark":{"type":"rule","color":"#222222","strokeWidth":1},"encoding":{"x2":{"field":"x2"},"y2":{"field":"y2"}}},
{"data":{"name":"arrows"},"transform":[{"filter":"datum.n == 'Similarity'"}],"mark":{"type":"point","shape":"M-1,-0.55L0,0L-1,0.55","filled":false,"size":400,"strokeWidth":1,"color":"#222222","opacity":1,"angle":121},"encoding":{"x":{"field":"x2","type":"quantitative"},"y":{"field":"y2","type":"quantitative"}}},
{"data":{"name":"arrows"},"transform":[{"filter":"datum.n == 'Turnover'"}],"mark":{"type":"point","shape":"M-1,-0.55L0,0L-1,0.55","filled":false,"size":400,"strokeWidth":1,"color":"#222222","opacity":1,"angle":238.6},"encoding":{"x":{"field":"x2","type":"quantitative"},"y":{"field":"y2","type":"quantitative"}}},
{"data":{"name":"arrows"},"transform":[{"filter":"datum.n == 'Nestedness'"}],"mark":{"type":"point","shape":"M-1,-0.55L0,0L-1,0.55","filled":false,"size":400,"strokeWidth":1,"color":"#222222","opacity":1,"angle":0},"encoding":{"x":{"field":"x2","type":"quantitative"},"y":{"field":"y2","type":"quantitative"}}},
{"data":{"name":"names"},"transform":[{"filter":"datum.n == 'Similarity'"}],"mark":{"type":"text","align":"center","baseline":"middle","font":"Liberation Sans","fontSize":16,"color":"#111111","angle":301.5},"encoding":{"text":{"field":"n"}}},
{"data":{"name":"names"},"transform":[{"filter":"datum.n == 'Turnover'"}],"mark":{"type":"text","align":"center","baseline":"middle","font":"Liberation Sans","fontSize":16,"color":"#111111","angle":58.5},"encoding":{"text":{"field":"n"}}},
{"data":{"name":"names"},"transform":[{"filter":"datum.n == 'Nestedness'"}],"mark":{"type":"text","align":"center","baseline":"middle","font":"Liberation Sans","fontSize":16,"color":"#111111","angle":0},"encoding":{"text":{"field":"n"}}},
{"data":{"name":"letters"},"transform":[{"filter":"datum.p == 'A'"}],"mark":{"type":"text","align":"left","baseline":"alphabetic","font":"Liberation Sans","fontWeight":"bold","fontSize":18,"color":"#000000"},"encoding":{"text":{"field":"p"}}}
]},
{"width":520,"height":425,
"title":{"text":"Among region","font":"DejaVu Sans","fontSize":23,"fontWeight":"normal","color":"#000000","frame":"group","anchor":"middle","baseline":"alphabetic","offset":-43.6},
"encoding":{"x":{"field":"x","type":"quantitative","scale":{"domain":[0,100]},"axis":null},"y":{"field":"y","type":"quantitative","scale":{"domain":[0,100]},"axis":null}},
"layer":[
{"data":{"name":"grid"},"mark":{"type":"rule"},"encoding":{"x2":{"field":"x2"},"y2":{"field":"y2"},"color":{"field":"k","type":"nominal","scale":{"domain":["h","d","e","t"],"range":["#8c8c8c","#333333","#000000","#000000"]},"legend":null},"strokeWidth":{"field":"k","type":"nominal","scale":{"domain":["h","d","e","t"],"range":[1,0.9,2,1]},"legend":null}}},
{"data":{"name":"B"},"mark":{"type":"circle","size":38,"color":"#696969","opacity":1}},
{"data":{"name":"red"},"transform":[{"filter":"datum.p == 'B'"}],"mark":{"type":"rule","color":"#ff0000","strokeWidth":4.5,"strokeCap":"round"},"encoding":{"x2":{"field":"x2"},"y2":{"field":"y2"}}},
{"data":{"name":"labs"},"transform":[{"filter":"datum.s == 'b'"}],"mark":{"type":"text","angle":300,"align":"right","baseline":"middle","dx":-8,"font":"Liberation Sans","fontSize":16.5,"color":"#111111"},"encoding":{"text":{"field":"v"}}},
{"data":{"name":"labs"},"transform":[{"filter":"datum.s == 'l'"}],"mark":{"type":"text","angle":58.5,"align":"right","baseline":"middle","dx":-8,"font":"Liberation Sans","fontSize":16.5,"color":"#111111"},"encoding":{"text":{"field":"v"}}},
{"data":{"name":"labs"},"transform":[{"filter":"datum.s == 'r'"}],"mark":{"type":"text","align":"left","baseline":"middle","dx":9,"font":"Liberation Sans","fontSize":16.5,"color":"#111111"},"encoding":{"text":{"field":"v"}}},
{"data":{"name":"arrows"},"mark":{"type":"rule","color":"#222222","strokeWidth":1},"encoding":{"x2":{"field":"x2"},"y2":{"field":"y2"}}},
{"data":{"name":"arrows"},"transform":[{"filter":"datum.n == 'Similarity'"}],"mark":{"type":"point","shape":"M-1,-0.55L0,0L-1,0.55","filled":false,"size":400,"strokeWidth":1,"color":"#222222","opacity":1,"angle":121},"encoding":{"x":{"field":"x2","type":"quantitative"},"y":{"field":"y2","type":"quantitative"}}},
{"data":{"name":"arrows"},"transform":[{"filter":"datum.n == 'Turnover'"}],"mark":{"type":"point","shape":"M-1,-0.55L0,0L-1,0.55","filled":false,"size":400,"strokeWidth":1,"color":"#222222","opacity":1,"angle":238.6},"encoding":{"x":{"field":"x2","type":"quantitative"},"y":{"field":"y2","type":"quantitative"}}},
{"data":{"name":"arrows"},"transform":[{"filter":"datum.n == 'Nestedness'"}],"mark":{"type":"point","shape":"M-1,-0.55L0,0L-1,0.55","filled":false,"size":400,"strokeWidth":1,"color":"#222222","opacity":1,"angle":0},"encoding":{"x":{"field":"x2","type":"quantitative"},"y":{"field":"y2","type":"quantitative"}}},
{"data":{"name":"names"},"transform":[{"filter":"datum.n == 'Similarity'"}],"mark":{"type":"text","align":"center","baseline":"middle","font":"Liberation Sans","fontSize":16,"color":"#111111","angle":301.5},"encoding":{"text":{"field":"n"}}},
{"data":{"name":"names"},"transform":[{"filter":"datum.n == 'Turnover'"}],"mark":{"type":"text","align":"center","baseline":"middle","font":"Liberation Sans","fontSize":16,"color":"#111111","angle":58.5},"encoding":{"text":{"field":"n"}}},
{"data":{"name":"names"},"transform":[{"filter":"datum.n == 'Nestedness'"}],"mark":{"type":"text","align":"center","baseline":"middle","font":"Liberation Sans","fontSize":16,"color":"#111111","angle":0},"encoding":{"text":{"field":"n"}}},
{"data":{"name":"letters"},"transform":[{"filter":"datum.p == 'B'"}],"mark":{"type":"text","align":"left","baseline":"alphabetic","font":"Liberation Sans","fontWeight":"bold","fontSize":18,"color":"#000000"},"encoding":{"text":{"field":"p"}}}
]}
]},
{"title":{"text":"Functional β diversity","font":"DejaVu Sans","fontSize":31,"fontWeight":"bold","color":"#000000","anchor":"middle","frame":"group","dx":549,"offset":2.4,"baseline":"alphabetic"},
"spacing":74,"bounds":"flush",
"hconcat":[
{"width":520,"height":425,
"title":{"text":"Within region","font":"DejaVu Sans","fontSize":23,"fontWeight":"normal","color":"#000000","frame":"group","anchor":"middle","baseline":"alphabetic","offset":-43.6},
"encoding":{"x":{"field":"x","type":"quantitative","scale":{"domain":[0,100]},"axis":null},"y":{"field":"y","type":"quantitative","scale":{"domain":[0,100]},"axis":null}},
"layer":[
{"data":{"name":"grid"},"mark":{"type":"rule"},"encoding":{"x2":{"field":"x2"},"y2":{"field":"y2"},"color":{"field":"k","type":"nominal","scale":{"domain":["h","d","e","t"],"range":["#8c8c8c","#333333","#000000","#000000"]},"legend":null},"strokeWidth":{"field":"k","type":"nominal","scale":{"domain":["h","d","e","t"],"range":[1,0.9,2,1]},"legend":null}}},
{"data":{"name":"C"},"mark":{"type":"circle","size":38,"color":"#696969","opacity":1}},
{"data":{"name":"red"},"transform":[{"filter":"datum.p == 'C'"}],"mark":{"type":"rule","color":"#ff0000","strokeWidth":4.5,"strokeCap":"round"},"encoding":{"x2":{"field":"x2"},"y2":{"field":"y2"}}},
{"data":{"name":"labs"},"transform":[{"filter":"datum.s == 'b'"}],"mark":{"type":"text","angle":300,"align":"right","baseline":"middle","dx":-8,"font":"Liberation Sans","fontSize":16.5,"color":"#111111"},"encoding":{"text":{"field":"v"}}},
{"data":{"name":"labs"},"transform":[{"filter":"datum.s == 'l'"}],"mark":{"type":"text","angle":58.5,"align":"right","baseline":"middle","dx":-8,"font":"Liberation Sans","fontSize":16.5,"color":"#111111"},"encoding":{"text":{"field":"v"}}},
{"data":{"name":"labs"},"transform":[{"filter":"datum.s == 'r'"}],"mark":{"type":"text","align":"left","baseline":"middle","dx":9,"font":"Liberation Sans","fontSize":16.5,"color":"#111111"},"encoding":{"text":{"field":"v"}}},
{"data":{"name":"arrows"},"mark":{"type":"rule","color":"#222222","strokeWidth":1},"encoding":{"x2":{"field":"x2"},"y2":{"field":"y2"}}},
{"data":{"name":"arrows"},"transform":[{"filter":"datum.n == 'Similarity'"}],"mark":{"type":"point","shape":"M-1,-0.55L0,0L-1,0.55","filled":false,"size":400,"strokeWidth":1,"color":"#222222","opacity":1,"angle":121},"encoding":{"x":{"field":"x2","type":"quantitative"},"y":{"field":"y2","type":"quantitative"}}},
{"data":{"name":"arrows"},"transform":[{"filter":"datum.n == 'Turnover'"}],"mark":{"type":"point","shape":"M-1,-0.55L0,0L-1,0.55","filled":false,"size":400,"strokeWidth":1,"color":"#222222","opacity":1,"angle":238.6},"encoding":{"x":{"field":"x2","type":"quantitative"},"y":{"field":"y2","type":"quantitative"}}},
{"data":{"name":"arrows"},"transform":[{"filter":"datum.n == 'Nestedness'"}],"mark":{"type":"point","shape":"M-1,-0.55L0,0L-1,0.55","filled":false,"size":400,"strokeWidth":1,"color":"#222222","opacity":1,"angle":0},"encoding":{"x":{"field":"x2","type":"quantitative"},"y":{"field":"y2","type":"quantitative"}}},
{"data":{"name":"names"},"transform":[{"filter":"datum.n == 'Similarity'"}],"mark":{"type":"text","align":"center","baseline":"middle","font":"Liberation Sans","fontSize":16,"color":"#111111","angle":301.5},"encoding":{"text":{"field":"n"}}},
{"data":{"name":"names"},"transform":[{"filter":"datum.n == 'Turnover'"}],"mark":{"type":"text","align":"center","baseline":"middle","font":"Liberation Sans","fontSize":16,"color":"#111111","angle":58.5},"encoding":{"text":{"field":"n"}}},
{"data":{"name":"names"},"transform":[{"filter":"datum.n == 'Nestedness'"}],"mark":{"type":"text","align":"center","baseline":"middle","font":"Liberation Sans","fontSize":16,"color":"#111111","angle":0},"encoding":{"text":{"field":"n"}}},
{"data":{"name":"letters"},"transform":[{"filter":"datum.p == 'C'"}],"mark":{"type":"text","align":"left","baseline":"alphabetic","font":"Liberation Sans","fontWeight":"bold","fontSize":18,"color":"#000000"},"encoding":{"text":{"field":"p"}}}
]},
{"width":520,"height":425,
"title":{"text":"Among region","font":"DejaVu Sans","fontSize":23,"fontWeight":"normal","color":"#000000","frame":"group","anchor":"middle","baseline":"alphabetic","offset":-43.6},
"encoding":{"x":{"field":"x","type":"quantitative","scale":{"domain":[0,100]},"axis":null},"y":{"field":"y","type":"quantitative","scale":{"domain":[0,100]},"axis":null}},
"layer":[
{"data":{"name":"grid"},"mark":{"type":"rule"},"encoding":{"x2":{"field":"x2"},"y2":{"field":"y2"},"color":{"field":"k","type":"nominal","scale":{"domain":["h","d","e","t"],"range":["#8c8c8c","#333333","#000000","#000000"]},"legend":null},"strokeWidth":{"field":"k","type":"nominal","scale":{"domain":["h","d","e","t"],"range":[1,0.9,2,1]},"legend":null}}},
{"data":{"name":"D"},"mark":{"type":"circle","size":38,"color":"#696969","opacity":1}},
{"data":{"name":"red"},"transform":[{"filter":"datum.p == 'D'"}],"mark":{"type":"rule","color":"#ff0000","strokeWidth":4.5,"strokeCap":"round"},"encoding":{"x2":{"field":"x2"},"y2":{"field":"y2"}}},
{"data":{"name":"labs"},"transform":[{"filter":"datum.s == 'b'"}],"mark":{"type":"text","angle":300,"align":"right","baseline":"middle","dx":-8,"font":"Liberation Sans","fontSize":16.5,"color":"#111111"},"encoding":{"text":{"field":"v"}}},
{"data":{"name":"labs"},"transform":[{"filter":"datum.s == 'l'"}],"mark":{"type":"text","angle":58.5,"align":"right","baseline":"middle","dx":-8,"font":"Liberation Sans","fontSize":16.5,"color":"#111111"},"encoding":{"text":{"field":"v"}}},
{"data":{"name":"labs"},"transform":[{"filter":"datum.s == 'r'"}],"mark":{"type":"text","align":"left","baseline":"middle","dx":9,"font":"Liberation Sans","fontSize":16.5,"color":"#111111"},"encoding":{"text":{"field":"v"}}},
{"data":{"name":"arrows"},"mark":{"type":"rule","color":"#222222","strokeWidth":1},"encoding":{"x2":{"field":"x2"},"y2":{"field":"y2"}}},
{"data":{"name":"arrows"},"transform":[{"filter":"datum.n == 'Similarity'"}],"mark":{"type":"point","shape":"M-1,-0.55L0,0L-1,0.55","filled":false,"size":400,"strokeWidth":1,"color":"#222222","opacity":1,"angle":121},"encoding":{"x":{"field":"x2","type":"quantitative"},"y":{"field":"y2","type":"quantitative"}}},
{"data":{"name":"arrows"},"transform":[{"filter":"datum.n == 'Turnover'"}],"mark":{"type":"point","shape":"M-1,-0.55L0,0L-1,0.55","filled":false,"size":400,"strokeWidth":1,"color":"#222222","opacity":1,"angle":238.6},"encoding":{"x":{"field":"x2","type":"quantitative"},"y":{"field":"y2","type":"quantitative"}}},
{"data":{"name":"arrows"},"transform":[{"filter":"datum.n == 'Nestedness'"}],"mark":{"type":"point","shape":"M-1,-0.55L0,0L-1,0.55","filled":false,"size":400,"strokeWidth":1,"color":"#222222","opacity":1,"angle":0},"encoding":{"x":{"field":"x2","type":"quantitative"},"y":{"field":"y2","type":"quantitative"}}},
{"data":{"name":"names"},"transform":[{"filter":"datum.n == 'Similarity'"}],"mark":{"type":"text","align":"center","baseline":"middle","font":"Liberation Sans","fontSize":16,"color":"#111111","angle":301.5},"encoding":{"text":{"field":"n"}}},
{"data":{"name":"names"},"transform":[{"filter":"datum.n == 'Turnover'"}],"mark":{"type":"text","align":"center","baseline":"middle","font":"Liberation Sans","fontSize":16,"color":"#111111","angle":58.5},"encoding":{"text":{"field":"n"}}},
{"data":{"name":"names"},"transform":[{"filter":"datum.n == 'Nestedness'"}],"mark":{"type":"text","align":"center","baseline":"middle","font":"Liberation Sans","fontSize":16,"color":"#111111","angle":0},"encoding":{"text":{"field":"n"}}},
{"data":{"name":"letters"},"transform":[{"filter":"datum.p == 'D'"}],"mark":{"type":"text","align":"left","baseline":"alphabetic","font":"Liberation Sans","fontWeight":"bold","fontSize":18,"color":"#000000"},"encoding":{"text":{"field":"p"}}}
]}
]}
]
}
